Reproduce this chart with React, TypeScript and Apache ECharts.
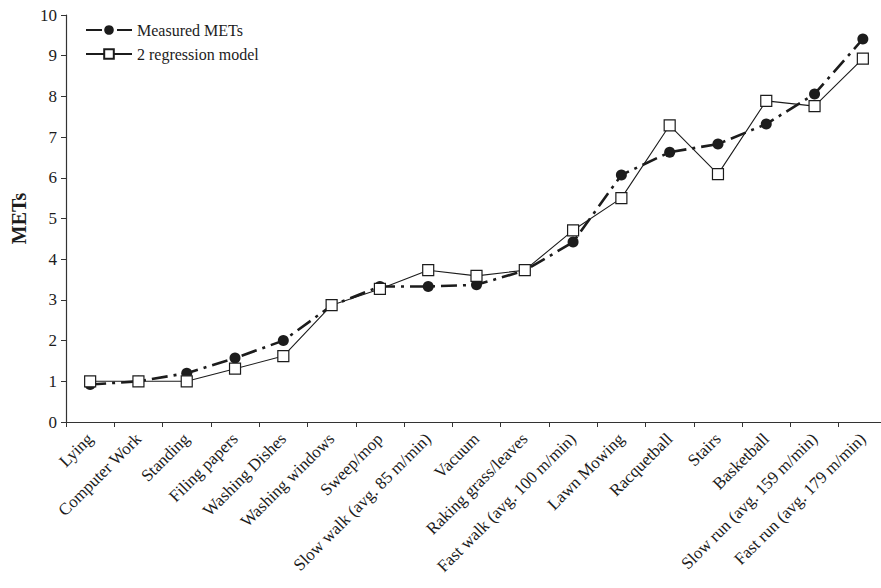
import React, { useEffect, useRef } from "react";
import * as echarts from "echarts";

const activities = [
  "Lying",
  "Computer Work",
  "Standing",
  "Filing papers",
  "Washing Dishes",
  "Washing windows",
  "Sweep/mop",
  "Slow walk (avg. 85 m/min)",
  "Vacuum",
  "Raking grass/leaves",
  "Fast walk (avg. 100 m/min)",
  "Lawn Mowing",
  "Racquetball",
  "Stairs",
  "Basketball",
  "Slow run (avg. 159 m/min)",
  "Fast run (avg. 179 m/min)",
];

const measuredMETs = [0.92, 1.0, 1.2, 1.57, 2.0, 2.86, 3.33, 3.33, 3.37, 3.72, 4.42, 6.07, 6.63, 6.83, 7.32, 8.06, 9.41];
const regressionMETs = [1.0, 1.0, 1.0, 1.31, 1.62, 2.87, 3.27, 3.73, 3.59, 3.73, 4.71, 5.5, 7.29, 6.09, 7.89, 7.76, 8.93];

const yTicks = { min: 0, max: 10, interval: 1 };

const FONT = "'Liberation Serif', 'Times New Roman', serif";
const INK = "#1c1c1c";

export default function App() {
  const ref = useRef<HTMLDivElement>(null);

  useEffect(() => {
    if (!ref.current) return;
    const chart = echarts.init(ref.current, undefined, { renderer: "svg" });
    chart.setOption({
      animation: false,
      backgroundColor: "#ffffff",
      textStyle: { fontFamily: FONT, color: INK },
      legend: {
        orient: "vertical",
        left: 80,
        top: 17,
        itemWidth: 46,
        itemHeight: 12,
        itemGap: 8,
        textStyle: { fontFamily: FONT, fontSize: 16, color: INK },
        data: ["Measured METs", "2 regression model"],
      },
      grid: { left: 66, right: 0, top: 15, bottom: 166 },
      xAxis: {
        type: "category",
        data: activities,
        boundaryGap: true,
        axisLine: { lineStyle: { color: "#333", width: 1.2 } },
        axisTick: { show: true, length: 5, lineStyle: { color: "#333" } },
        axisLabel: {
          interval: 0,
          rotate: 45,
          fontFamily: FONT,
          fontSize: 17,
          color: INK,
          margin: 14,
        },
      },
      yAxis: {
        type: "value",
        min: yTicks.min,
        max: yTicks.max,
        interval: yTicks.interval,
        name: "METs",
        nameLocation: "middle",
        nameGap: 26,
        nameTextStyle: { fontFamily: FONT, fontSize: 20, fontWeight: "bold", color: INK },
        splitLine: { show: false },
        axisLine: { show: true, lineStyle: { color: "#333", width: 1.2 } },
        axisTick: { show: true, length: 5, lineStyle: { color: "#333" } },
        axisLabel: { fontFamily: FONT, fontSize: 17, color: INK, margin: 9 },
      },
      series: [
        {
          name: "Measured METs",
          type: "line",
          data: measuredMETs,
          symbol: "circle",
          symbolSize: 11,
          itemStyle: { color: INK },
          lineStyle: { color: INK, width: 2.6, type: [16, 6, 3, 6] },
          z: 2,
        },
        {
          name: "2 regression model",
          type: "line",
          data: regressionMETs,
          symbol: "rect",
          symbolSize: 11,
          itemStyle: { color: "#ffffff", borderColor: INK, borderWidth: 1.2 },
          lineStyle: { color: INK, width: 1.1, type: "solid" },
          z: 3,
        },
      ],
    });
    return () => chart.dispose();
  }, []);

  return (
    <div
      style={{
        position: "absolute",
        left: 0,
        top: 0,
        width: 881,
        height: 588,
        overflow: "hidden",
        background: "#fff",
      }}
    >
      <div ref={ref} style={{ width: 887, height: 588 }} />
    </div>
  );
}
